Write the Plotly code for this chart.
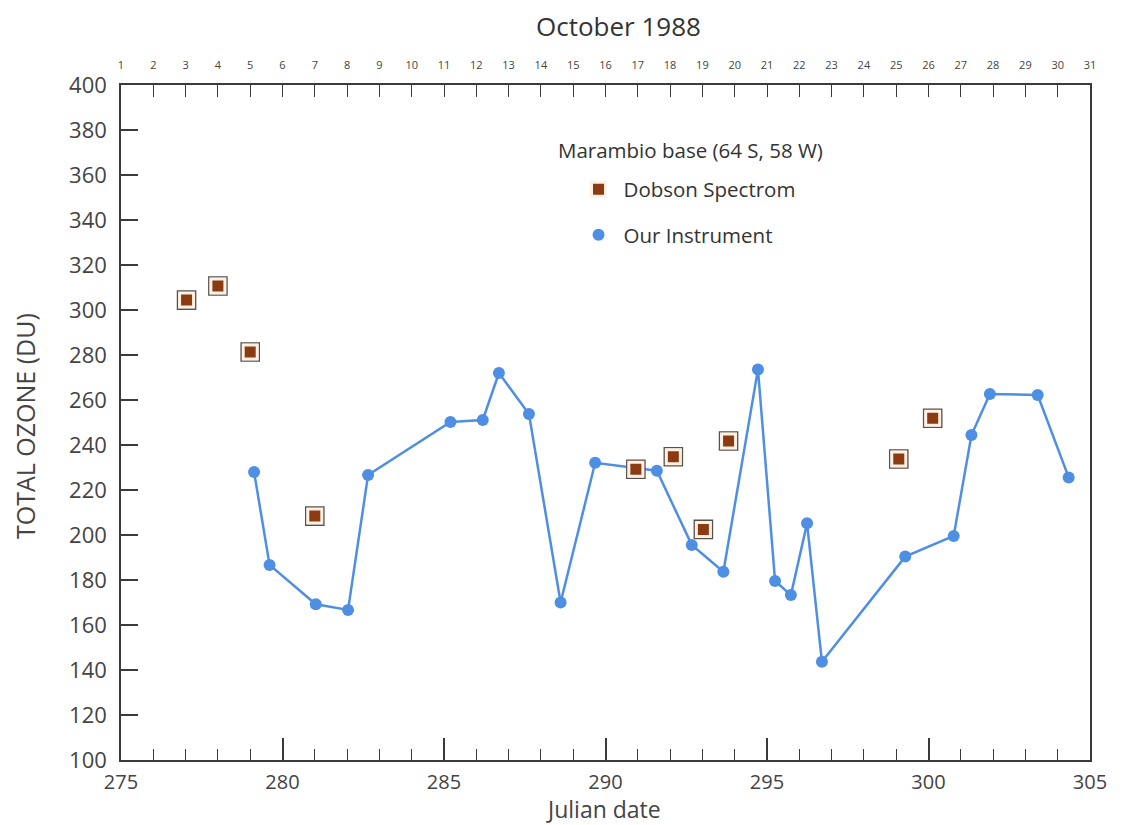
import plotly.graph_objects as go

# Our instrument (Julian date, total ozone DU)
inst_day = [279.12, 279.6, 281.03, 282.03, 282.65, 285.2, 286.2, 286.7, 287.63, 288.61,
            289.68, 291.59, 292.67, 293.65, 294.72, 295.25, 295.74, 296.24, 296.7, 299.28,
            300.78, 301.33, 301.9, 303.38, 304.34]
inst_ozone = [228, 186.7, 169.2, 166.7, 226.7, 250.2, 251.1, 272, 253.8, 170,
              232.1, 228.6, 195.6, 183.7, 273.6, 179.6, 173.3, 205.2, 143.7, 190.4,
              199.6, 244.4, 262.7, 262.2, 225.6]

# Dobson spectrophotometer
dob_day = [277.03, 278.0, 279.0, 281.0, 290.94, 292.1, 293.03, 293.81, 299.08, 300.13]
dob_ozone = [304.4, 310.7, 281.3, 208.4, 229.2, 234.8, 202.5, 241.8, 233.8, 251.9]

# Top axis: day of October
oct_days = list(range(1, 32))
oct_julian = [274 + d for d in oct_days]

FONT = "'Open Sans', Lato, sans-serif"
GRAY = "#444444"
AXC = "#3a3a3a"
BLUE = "#4f8fe3"

fig = go.Figure()

# Our instrument: connecting line (no legend) + markers (legend)
fig.add_trace(go.Scatter(
    x=inst_day, y=inst_ozone, mode="lines", showlegend=False, hoverinfo="skip",
    line=dict(color=BLUE, width=2.5),
))
# outer frame of Dobson squares (no legend)
fig.add_trace(go.Scatter(
    x=dob_day, y=dob_ozone, mode="markers", showlegend=False, hoverinfo="skip",
    marker=dict(symbol="square", size=18, color="#fbf1e4",
                line=dict(color="#5b5048", width=1.6)),
))
fig.add_trace(go.Scatter(
    x=dob_day, y=dob_ozone, mode="markers", name="Dobson Spectrom",
    legendgroup="a",
    marker=dict(symbol="square", size=14, color="#8c3a12",
                line=dict(color="#fbf1e4", width=3)),
))
fig.add_trace(go.Scatter(
    x=inst_day, y=inst_ozone, mode="markers", name="Our Instrument",
    legendgroup="b",
    marker=dict(symbol="circle", size=12, color=BLUE),
))
# dummy trace to activate the top axis
fig.add_trace(go.Scatter(x=[275, 305], y=[None, None], xaxis="x2", showlegend=False,
                         hoverinfo="skip", mode="markers"))

# page has an 8px body margin, so the figure is laid out 8px smaller
fig.update_layout(
    width=1114, height=817,
    margin=dict(l=113, r=32, t=77, b=65, autoexpand=False),
    paper_bgcolor="white", plot_bgcolor="white",
    font=dict(family=FONT, color=GRAY),
    xaxis=dict(range=[275, 305], tick0=275, dtick=5, ticks="inside", ticklen=22,
               tickwidth=1.5, tickcolor=AXC, showline=True, linecolor=AXC, linewidth=1.5,
               showgrid=False, zeroline=False, automargin=False, ticklabelstandoff=3,
               minor=dict(dtick=1, ticks="inside", ticklen=11, tickwidth=1.3, tickcolor=AXC),
               tickfont=dict(size=20, color=GRAY)),
    xaxis2=dict(range=[275, 305], overlaying="x", side="top", tickmode="array",
                tickvals=oct_julian, ticktext=[str(d) for d in oct_days],
                ticks="inside", ticklen=12, tickwidth=1.3, tickcolor=AXC,
                showline=True, linecolor=AXC, linewidth=1.5, showgrid=False,
                zeroline=False, automargin=False, ticklabelstandoff=10,
                tickfont=dict(size=11, color=GRAY)),
    yaxis=dict(range=[100, 400], tick0=100, dtick=20, ticks="inside", ticklen=17,
               tickwidth=1.5, tickcolor=AXC, showline=True, linecolor=AXC, linewidth=1.5,
               mirror=True, showgrid=False, zeroline=False, automargin=False,
               ticklabelstandoff=8, tickfont=dict(size=22, color=GRAY)),
    legend=dict(x=0.467, y=0.875, xanchor="left", yanchor="top",
                bgcolor="rgba(0,0,0,0)", tracegroupgap=16, itemwidth=40,
                font=dict(size=20.5, color="#333333", family=FONT)),
    showlegend=True,
    annotations=[
        dict(text="October 1988", xref="paper", yref="paper", x=(618 - 121) / 969,
             y=1 + (85 - 26) / 675, xanchor="center", yanchor="middle", showarrow=False,
             font=dict(size=26, color="#333333", family=FONT)),
        dict(text="Marambio base (64 S, 58 W)", xref="paper", yref="paper",
             x=(690 - 121) / 969, y=1 - (150 - 85) / 675, xanchor="center", yanchor="middle",
             showarrow=False, font=dict(size=20.5, color="#333333", family=FONT)),
        dict(text="Julian date", xref="paper", yref="paper", x=(603 - 121) / 969,
             y=1 - (809 - 85) / 675, xanchor="center", yanchor="middle", showarrow=False,
             font=dict(size=23, color=GRAY, family=FONT)),
        dict(text="TOTAL OZONE (DU)", xref="paper", yref="paper", x=(25 - 121) / 969,
             y=1 - (426 - 85) / 675, xanchor="center", yanchor="middle", textangle=-90,
             showarrow=False, font=dict(size=25, color=GRAY, family=FONT)),
    ],
)

fig.write_html("out.html")
